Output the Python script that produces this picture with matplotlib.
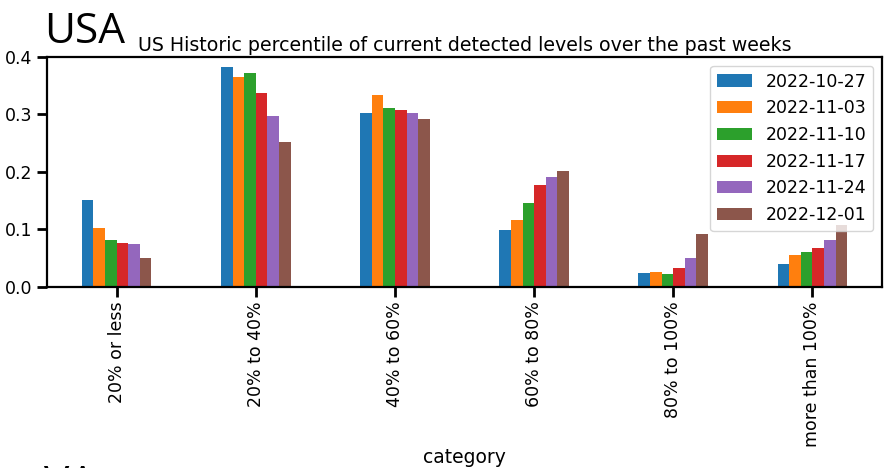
import numpy as np
import pandas as pd
import matplotlib
matplotlib.use("Agg")
import matplotlib.pyplot as plt

categories = ['20% or less', '20% to 40%', '40% to 60%', '60% to 80%',
              '80% to 100%', 'more than 100%']
weeks = ['2022-10-27', '2022-11-03', '2022-11-10', '2022-11-17',
         '2022-11-24', '2022-12-01']

w1027 = [0.151, 0.382, 0.303, 0.099, 0.024, 0.040]
w1103 = [0.102, 0.365, 0.334, 0.117, 0.026, 0.055]
w1110 = [0.082, 0.373, 0.312, 0.146, 0.023, 0.061]
w1117 = [0.077, 0.338, 0.307, 0.177, 0.033, 0.067]
w1124 = [0.074, 0.297, 0.302, 0.191, 0.051, 0.082]
w1201 = [0.050, 0.253, 0.293, 0.202, 0.093, 0.108]

df = pd.DataFrame(
    np.array([w1027, w1103, w1110, w1117, w1124, w1201]).T,
    index=pd.Index(categories, name='category'), columns=weeks)

plt.rcParams['font.size'] = 12.5

fig = plt.figure(figsize=(8.87, 4.68), dpi=100)
ax = fig.add_axes([0.053, 0.3868, 0.9414, 0.4914])
df.plot.bar(ax=ax)

ax.set_ylim(0, 0.4)
ax.set_yticks([0.0, 0.1, 0.2, 0.3, 0.4])
ax.tick_params(axis='both', length=7, width=2, labelsize=12.5)
for s in ax.spines.values():
    s.set_linewidth(1.6)
ax.set_title('US Historic percentile of current detected levels over the past weeks',
             fontsize=13.7, pad=4)
ax.set_xlabel('category', fontsize=13.5, labelpad=1)
ax.legend(loc='upper right', fontsize=12.5)

fig.text(0.05, 0.908, 'USA', fontsize=30.5, family='Open Sans')
fig.text(0.05, -0.06, 'VA', fontsize=30.5, family='Open Sans')

fig.savefig('out.png', dpi=100)
